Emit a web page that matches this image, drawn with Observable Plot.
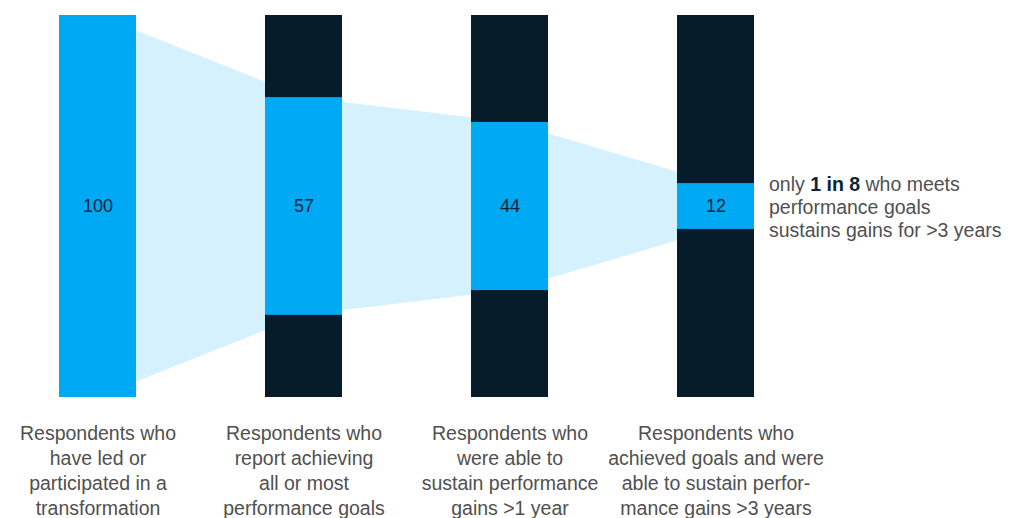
<!DOCTYPE html>
<html>
<head>
<meta charset="utf-8">
<script src="https://cdn.jsdelivr.net/npm/d3@7"></script>
<script src="https://cdn.jsdelivr.net/npm/@observablehq/plot@0.6"></script>
<style>
  html, body { margin: 0; padding: 0; background: #ffffff; }
  #chart svg { display: block; }
</style>
</head>
<body>
<div id="chart"></div>
<script>
// Stages of the funnel (bottom labels)
const stageLabels = [
  "Respondents who\nhave led or\nparticipated in a\ntransformation",
  "Respondents who\nreport achieving\nall or most\nperformance goals",
  "Respondents who\nwere able to\nsustain performance\ngains >1 year",
  "Respondents who\nachieved goals and were\nable to sustain perfor-\nmance gains >3 years"
];
// Share of respondents (out of 100)
const stageValues = [100, 57, 44, 12];
const total = 100;
const annotationText = "only 1 in 8 who meets\nperformance goals\nsustains gains for >3 years";
const annotationBold = "1 in 8";

const cyan = "#00a9f4";
const navy = "#071c2b";
const pale = "#d4f1fd";

const data = stageLabels.map((label, i) => ({
  label,
  value: stageValues[i],
  lo: (total - stageValues[i]) / 2,
  hi: (total + stageValues[i]) / 2
}));

const font = "'Liberation Sans', Arial, sans-serif";

const chart = Plot.plot({
  width: 1020,
  height: 518,
  marginLeft: 58,
  marginRight: 265,
  marginTop: 15,
  marginBottom: 121,
  style: { fontFamily: font, background: "#ffffff" },
  x: { domain: stageLabels, axis: null, paddingInner: 0.628, paddingOuter: 0 },
  y: { domain: [0, total], axis: null },
  marks: [
    Plot.areaY(data, { x: "label", y1: "lo", y2: "hi", fill: pale, curve: "linear" }),
    Plot.barY(data, { x: "label", y1: 0, y2: total, fill: navy }),
    Plot.barY(data, { x: "label", y1: "lo", y2: "hi", fill: cyan }),
    Plot.text(data, {
      x: "label", y: total / 2, text: d => String(d.value),
      fill: "#0b2436", fontSize: 18, fontWeight: 500
    }),
    Plot.text(data, {
      x: "label", frameAnchor: "bottom", lineAnchor: "top", dy: 25,
      text: "label", fill: "#505050", fontSize: 19.5, lineHeight: 1.28
    }),
    Plot.text(data.slice(-1), {
      x: "label", y: total / 2, text: () => annotationText,
      textAnchor: "start", lineAnchor: "middle", dx: 53,
      fill: "#505050", fontSize: 19.5, lineHeight: 1.18
    })
  ]
});

document.getElementById("chart").appendChild(chart);

// Bold the "1 in 8" phrase in the annotation's first line
d3.select(chart).selectAll("text").each(function () {
  const sel = d3.select(this);
  const spans = sel.selectAll("tspan");
  let node = null;
  if (spans.empty()) {
    if (sel.text().includes(annotationBold)) node = sel;
  } else {
    spans.each(function () {
      if (!node && d3.select(this).text().includes(annotationBold)) node = d3.select(this);
    });
  }
  if (!node) return;
  const full = node.text();
  const idx = full.indexOf(annotationBold);
  node.text(null);
  node.append("tspan").text(full.slice(0, idx));
  node.append("tspan").attr("font-weight", "bold").attr("fill", "#0b2436").text(annotationBold);
  node.append("tspan").text(full.slice(idx + annotationBold.length));
});
</script>
</body>
</html>
